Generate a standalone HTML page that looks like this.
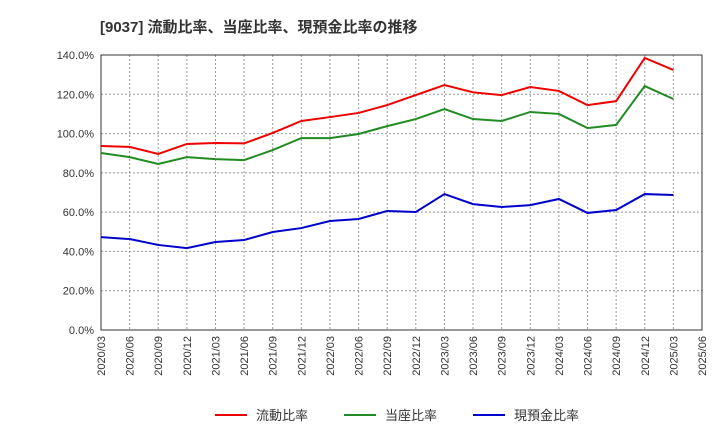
<!DOCTYPE html>
<html><head><meta charset="utf-8"><style>
body{margin:0;background:#fff;font-family:"Liberation Sans","Noto Sans CJK JP",sans-serif;}
</style></head><body>
<svg id="chart" width="720" height="440" xmlns="http://www.w3.org/2000/svg" style="font-family:'Liberation Sans','Noto Sans CJK JP',sans-serif">
<text x="100" y="32" font-size="15" font-weight="bold" fill="#333">[9037]  流動比率、当座比率、現預金比率の推移</text>
<g id="grid"></g><g id="axes"></g><g id="series"></g>
<g>
<line x1="215" y1="415" x2="247" y2="415" stroke="#e00" stroke-width="2"/><text x="256" y="420" font-size="13" fill="#333">流動比率</text>
<line x1="344" y1="415" x2="376" y2="415" stroke="#228b22" stroke-width="2"/><text x="385" y="420" font-size="13" fill="#333">当座比率</text>
<line x1="473" y1="415" x2="505" y2="415" stroke="#00c" stroke-width="2"/><text x="514" y="420" font-size="13" fill="#333">現預金比率</text>
</g>
</svg>
<script>
const categories=["2020/03","2020/06","2020/09","2020/12","2021/03","2021/06","2021/09","2021/12","2022/03","2022/06","2022/09","2022/12","2023/03","2023/06","2023/09","2023/12","2024/03","2024/06","2024/09","2024/12","2025/03","2025/06"];
const currentRatio=[93.7,93.2,89.6,94.7,95.2,95,100.3,106.4,108.4,110.5,114.5,119.6,124.7,121,119.6,123.7,121.7,114.5,116.5,138.5,132.4];
const quickRatio=[90.1,88,84.5,88,87,86.5,91.6,97.7,97.7,99.8,103.8,107.4,112.5,107.4,106.4,111,110,102.8,104.4,124.2,117.6];
const cashRatio=[47.3,46.3,43.3,41.7,44.8,45.8,49.9,51.9,55.5,56.5,60.6,60.1,69.2,64.1,62.6,63.6,66.7,59.6,61.1,69.2,68.7];
const yTicks=[0,20,40,60,80,100,120,140];
const L=101,R=702,T=55,B=330,yMax=140;
const NS="http://www.w3.org/2000/svg";
const xs=i=>L+(R-L)*i/(categories.length-1);
const ys=v=>B-(B-T)*v/yMax;
function mk(t,a,p){const e=document.createElementNS(NS,t);for(const k in a)e.setAttribute(k,a[k]);p.appendChild(e);return e;}
const grid=document.getElementById('grid'),axes=document.getElementById('axes'),ser=document.getElementById('series');
yTicks.forEach(v=>{const l=mk('line',{x1:L,x2:R,y1:ys(v),y2:ys(v),stroke:'#999','stroke-dasharray':'2,2','stroke-width':1},grid);


const t=mk('text',{x:L-7,y:ys(v)+4,'text-anchor':'end','font-size':11,fill:'#333'},axes);t.textContent=v.toFixed(1)+'%';

});
categories.forEach((c,i)=>{const l=mk('line',{x1:xs(i),x2:xs(i),y1:T,y2:B,stroke:'#999','stroke-dasharray':'2,2','stroke-width':1},grid);


const t=mk('text',{x:0,y:0,'text-anchor':'end','font-size':11,fill:'#333',transform:`translate(${xs(i)+4},${B+6}) rotate(-90)`},axes);t.textContent=c;

});
const f=mk('rect',{x:L,y:T,width:R-L,height:B-T,fill:'none',stroke:'#333','stroke-width':1},axes);


[[currentRatio,'#e00','current-ratio-line'],[quickRatio,'#228b22','quick-ratio-line'],[cashRatio,'#00c','cash-ratio-line']].forEach(([d,c,n])=>{
const p=mk('polyline',{points:d.map((v,i)=>xs(i)+','+ys(v)).join(' '),fill:'none',stroke:c,'stroke-width':2},ser);

});
</script>
</body></html>
